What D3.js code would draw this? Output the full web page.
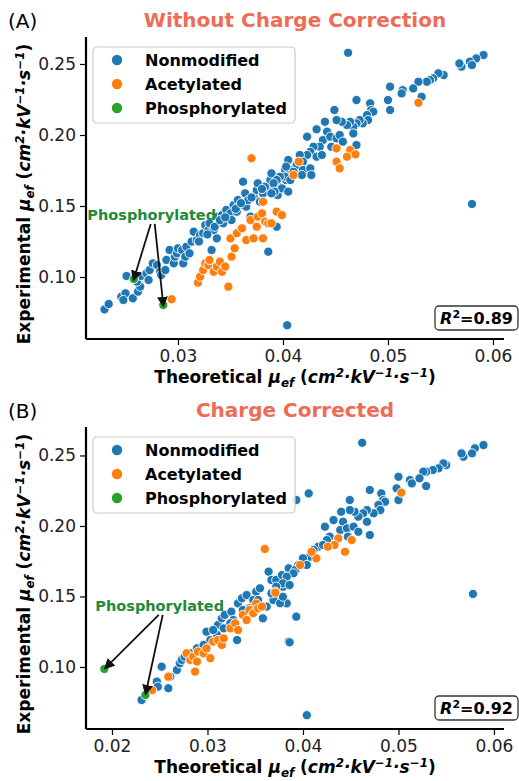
<!DOCTYPE html>
<html>
<head>
<meta charset="utf-8">
<script src="https://cdn.jsdelivr.net/npm/d3@7"></script>
<style>
  body { margin: 0; background: #fff; }
  text { font-family: "DejaVu Sans", sans-serif; }
</style>
</head>
<body>
<script>
// ---- data (theoretical mobility, experimental mobility) ----
const topNonmodified = [
  [0.0230,0.0772],[0.0234,0.0810],[0.0246,0.0861],[0.0250,0.0885],[0.0248,0.0838],[0.0257,0.0850],
  [0.0262,0.0897],[0.0264,0.0932],[0.0261,0.0967],[0.0251,0.1007],[0.0265,0.1007],[0.0270,0.1026],
  [0.0272,0.0979],[0.0273,0.1049],[0.0276,0.1096],[0.0280,0.1084],[0.0283,0.1037],[0.0284,0.1014],
  [0.0288,0.1049],[0.0289,0.1120],[0.0292,0.1190],[0.0296,0.1096],[0.0297,0.1143],[0.0299,0.1167],
  [0.0300,0.1202],[0.0304,0.1190],[0.0305,0.1096],[0.0307,0.1143],[0.0308,0.1213],[0.0311,0.1167],
  [0.0313,0.1249],[0.0315,0.1319],[0.0318,0.1260],[0.0321,0.1296],[0.0324,0.1308],[0.0326,0.1366],
  [0.0329,0.1331],[0.0330,0.1378],[0.0332,0.1190],[0.0334,0.1331],[0.0335,0.1354],[0.0337,0.1272],
  [0.0338,0.1425],[0.0342,0.1436],[0.0343,0.1378],[0.0346,0.1472],[0.0350,0.1448],[0.0351,0.1401],
  [0.0353,0.1507],[0.0356,0.1460],[0.0357,0.1542],[0.0361,0.1507],[0.0362,0.1671],[0.0364,0.1589],
  [0.0365,0.1495],[0.0367,0.1542],[0.0369,0.1425],[0.0372,0.1565],[0.0375,0.1612],[0.0376,0.1660],
  [0.0378,0.1530],[0.0381,0.1589],[0.0383,0.1636],[0.0386,0.1178],[0.0388,0.1683],[0.0389,0.1730],
  [0.0391,0.1612],[0.0394,0.1660],[0.0394,0.1354],[0.0395,0.1577],[0.0397,0.1706],[0.0399,0.1624],
  [0.0402,0.1753],[0.0403,0.1683],[0.0405,0.1824],[0.0405,0.1601],
  [0.0320,0.1250],[0.0328,0.1300],[0.0340,0.1400],[0.0345,0.1420],[0.0355,0.1480],[0.0360,0.1520],
  [0.0370,0.1560],[0.0380,0.1620],
  [0.0591,0.2563],[0.0584,0.2539],[0.0578,0.2516],[0.0580,0.2492],[0.0570,0.2481],[0.0568,0.2504],
  [0.0553,0.2422],[0.0548,0.2434],[0.0543,0.2399],[0.0540,0.2387],[0.0537,0.2375],[0.0529,0.2375],
  [0.0524,0.2328],[0.0532,0.2269],[0.0514,0.2316],[0.0513,0.2293],[0.0502,0.2340],[0.0500,0.2246],
  [0.0502,0.2176],[0.0483,0.2223],[0.0484,0.2176],[0.0486,0.2164],[0.0480,0.2140],[0.0481,0.2105],
  [0.0470,0.2246],[0.0476,0.2082],[0.0473,0.2105],[0.0470,0.2082],[0.0467,0.2058],[0.0464,0.2093],
  [0.0467,0.2011],[0.0461,0.2070],[0.0456,0.2093],[0.0451,0.2105],[0.0449,0.2176],[0.0440,0.2093],
  [0.0432,0.2040],[0.0423,0.1988],[0.0442,0.2023],[0.0438,0.1964],[0.0445,0.1988],[0.0451,0.1976],
  [0.0454,0.2000],[0.0457,0.1953],[0.0446,0.1917],[0.0470,0.1929],[0.0435,0.1917],[0.0429,0.1917],
  [0.0426,0.1882],[0.0432,0.1847],[0.0437,0.1859],[0.0423,0.1859],[0.0416,0.1859],[0.0419,0.1812],
  [0.0413,0.1788],[0.0407,0.1753],[0.0403,0.1777],[0.0410,0.1741],[0.0419,0.1753],[0.0426,0.1765],
  [0.0427,0.1718],[0.0418,0.1718],[0.0402,0.1706],[0.0397,0.1706],[0.0394,0.1683],[0.0391,0.1660],
  [0.0392,0.1601],[0.0389,0.1589],[0.0407,0.1683],
  [0.0580,0.1514],[0.0462,0.2579],[0.0404,0.0660]
];
const topAcetylated = [
  [0.0294,0.0843],[0.0319,0.0960],[0.0321,0.1002],[0.0324,0.1049],[0.0326,0.1096],[0.0329,0.1084],
  [0.0330,0.1120],[0.0334,0.1037],[0.0337,0.1073],[0.0340,0.1108],[0.0342,0.1037],[0.0345,0.1073],
  [0.0348,0.0932],[0.0350,0.1272],[0.0351,0.1143],[0.0354,0.1202],[0.0356,0.1308],[0.0361,0.1343],
  [0.0365,0.1260],[0.0369,0.1401],[0.0372,0.1272],[0.0375,0.1354],[0.0376,0.1425],[0.0380,0.1448],
  [0.0381,0.1272],[0.0381,0.1530],[0.0383,0.1390],[0.0386,0.1378],[0.0389,0.1378],[0.0394,0.1460],
  [0.0399,0.1436],[0.0370,0.1836],
  [0.0529,0.2227],[0.0451,0.1906],[0.0464,0.1894],[0.0469,0.1864],[0.0461,0.1847],[0.0451,0.1812],
  [0.0454,0.1765],[0.0415,0.1812],[0.0410,0.1718]
];
const topPhosphorylated = [[0.0258,0.0986],[0.0286,0.0803]];

const bottomNonmodified = [
  [0.0231,0.0766],[0.0247,0.0896],[0.0248,0.0860],[0.0252,0.1002],[0.0259,0.0849],[0.0261,0.0931],
  [0.0268,0.0979],[0.0271,0.1026],[0.0273,0.1050],[0.0276,0.1073],[0.0299,0.1250],[0.0303,0.1191],
  [0.0310,0.1227],[0.0311,0.1298],[0.0315,0.1345],[0.0318,0.1369],[0.0325,0.1392],[0.0327,0.1333],
  [0.0331,0.1191],[0.0332,0.1451],[0.0336,0.1487],[0.0341,0.1510],[0.0344,0.1416],[0.0348,0.1475],
  [0.0351,0.1534],[0.0355,0.1558],[0.0358,0.1345],[0.0362,0.1428],[0.0364,0.1676],[0.0367,0.1617],
  [0.0372,0.1617],[0.0376,0.1499],[0.0378,0.1652],[0.0379,0.1569],[0.0383,0.1451],[0.0385,0.1180],
  [0.0385,0.1700],
  [0.0282,0.1097],[0.0289,0.1132],[0.0296,0.1156],[0.0306,0.1262],[0.0317,0.1274],[0.0324,0.1310],
  [0.0337,0.1404],[0.0353,0.1475],
  [0.0589,0.2574],[0.0580,0.2551],[0.0577,0.2515],[0.0568,0.2491],[0.0566,0.2515],[0.0550,0.2432],
  [0.0547,0.2444],[0.0542,0.2409],[0.0536,0.2397],[0.0529,0.2385],[0.0526,0.2385],[0.0522,0.2338],
  [0.0529,0.2283],[0.0512,0.2326],[0.0514,0.2302],[0.0500,0.2349],[0.0498,0.2267],[0.0500,0.2184],
  [0.0482,0.2231],[0.0484,0.2184],[0.0486,0.2172],[0.0479,0.2149],[0.0481,0.2113],[0.0470,0.2255],
  [0.0474,0.2090],[0.0467,0.2113],[0.0463,0.2090],[0.0458,0.2066],[0.0454,0.2101],[0.0467,0.2030],
  [0.0449,0.2113],[0.0449,0.2184],[0.0440,0.2101],[0.0432,0.2042],[0.0423,0.1995],[0.0442,0.2030],
  [0.0439,0.1971],[0.0446,0.1983],[0.0453,0.1995],[0.0458,0.1959],[0.0447,0.1924],[0.0470,0.1936],
  [0.0428,0.1924],[0.0425,0.1900],[0.0416,0.1853],[0.0421,0.1865],[0.0411,0.1830],[0.0407,0.1782],
  [0.0400,0.1771],[0.0404,0.1723],[0.0395,0.1723],[0.0392,0.1688],[0.0390,0.1664],[0.0383,0.1640],
  [0.0379,0.1593],[0.0386,0.1581],[0.0372,0.1569],[0.0369,0.1475],[0.0376,0.1452],[0.0379,0.1498],
  [0.0367,0.1522],[0.0393,0.1357],[0.0578,0.1518],[0.0406,0.2231],[0.0393,0.2184],
  [0.0462,0.2590],[0.0404,0.0658],[0.0386,0.1175]
];
const bottomAcetylated = [
  [0.0242,0.0835],[0.0259,0.0931],[0.0278,0.1097],[0.0282,0.1050],[0.0285,0.1073],[0.0289,0.1038],
  [0.0290,0.1109],[0.0296,0.1097],[0.0299,0.1132],[0.0303,0.1062],[0.0306,0.1180],[0.0311,0.1191],
  [0.0315,0.1156],[0.0317,0.1203],[0.0324,0.1274],[0.0329,0.1310],[0.0332,0.1262],[0.0337,0.1369],
  [0.0341,0.1333],[0.0344,0.1404],[0.0348,0.1381],[0.0351,0.1451],[0.0353,0.1416],[0.0357,0.1428],
  [0.0371,0.1534],[0.0287,0.0967],
  [0.0503,0.2236],[0.0451,0.1900],[0.0444,0.1817],[0.0437,0.1912],[0.0433,0.1865],[0.0426,0.1853],
  [0.0414,0.1771],[0.0409,0.1817],[0.0397,0.1723],[0.0371,0.1527],[0.0360,0.1837]
];
const bottomPhosphorylated = [[0.0192,0.0986],[0.0235,0.0801]];

const categories = ["Nonmodified", "Acetylated", "Phosphorylated"];
const colors = ["#1f77b4", "#ff7f0e", "#2ca02c"];
const xTicksTop = [0.03, 0.04, 0.05, 0.06];
const xTicksBottom = [0.02, 0.03, 0.04, 0.05, 0.06];
const yTicks = [0.10, 0.15, 0.20, 0.25];
const r2Top = "0.89";
const r2Bottom = "0.92";

const svg = d3.select("body").append("svg")
  .attr("width", 519)
  .attr("height", 781);

const fmt = d3.format(".2f");

function richText(sel, segs, size) {
  let shift = 0;
  segs.forEach((s) => {
    const target = s.sup ? -0.38 * size : s.sub ? 0.22 * size : 0;
    sel.append("tspan")
      .attr("dy", target - shift)
      .attr("font-size", s.sup || s.sub ? size * 0.7 : size)
      .attr("font-style", s.it ? "italic" : "normal")
      .attr("font-weight", "bold")
      .text(s.t);
    shift = target;
  });
}

const unitSegs = (name) => [
  { t: name + " " }, { t: "μ", it: 1 }, { t: "ef", it: 1, sub: 1 }, { t: " (" },
  { t: "cm", it: 1 }, { t: "2", it: 1, sup: 1 }, { t: "·kV", it: 1 }, { t: "−1", it: 1, sup: 1 },
  { t: "·s", it: 1 }, { t: "−1", it: 1, sup: 1 }, { t: ")" },
];

function drawPanel(p) {
  const x = d3.scaleLinear().domain(p.xDomain).range([p.left, p.right]);
  const y = d3.scaleLinear().domain(p.yDomain).range([p.bottom, p.top]);

  // panel letter + title
  svg.append("text").attr("x", 8).attr("y", p.top - 9).attr("font-size", 20).text(p.letter);
  svg.append("text")
    .attr("x", (p.left + p.right) / 2).attr("y", p.top - 10)
    .attr("text-anchor", "middle").attr("font-size", 20).attr("font-weight", "bold")
    .attr("fill", "#ee6b55").text(p.title);

  // axes
  const xMinor = d3.range(0.0175, 0.061, 0.0025).filter((v) => v >= p.xDomain[0] && v <= p.xDomain[1]);
  const yMinor = d3.range(0.0625, 0.27, 0.0125).filter((v) => v >= p.yDomain[0] && v <= p.yDomain[1]);

  const xg = svg.append("g").attr("transform", `translate(0,${p.bottom})`);
  xg.call(d3.axisBottom(x).tickValues(xMinor).tickSize(3).tickFormat(""));
  xg.call(d3.axisBottom(x).tickValues(p.xTicks).tickSize(6).tickPadding(5).tickFormat(fmt));
  xg.select(".domain").attr("stroke-width", 2.2);
  const yg = svg.append("g").attr("transform", `translate(${p.left},0)`);
  yg.call(d3.axisLeft(y).tickValues(yMinor).tickSize(3).tickFormat(""));
  yg.call(d3.axisLeft(y).tickValues(yTicks).tickSize(6).tickPadding(4).tickFormat(fmt));
  yg.select(".domain").attr("stroke-width", 2.2);
  svg.selectAll(".tick line").attr("stroke-width", 1.2);
  [xg, yg].forEach((g) => g.selectAll("text").attr("font-size", 17).attr("fill", "#222")
    .attr("font-family", "DejaVu Sans"));
  xg.selectAll(".domain").attr("d", `M${p.left},0H${p.right}`);
  yg.selectAll(".domain").attr("d", `M0,${p.top}V${p.bottom}`);

  // axis labels
  richText(svg.append("text").attr("x", (p.left + p.right) / 2).attr("y", p.bottom + 44)
    .attr("text-anchor", "middle"), unitSegs("Theoretical"), 17);
  richText(svg.append("text").attr("transform", `translate(30,${(p.top + p.bottom) / 2 + 6}) rotate(-90)`)
    .attr("text-anchor", "middle"), unitSegs("Experimental"), 17);

  // points
  [p.nonmod, p.acetyl, p.phos].forEach((data, i) => {
    svg.append("g").selectAll("circle").data(data).join("circle")
      .attr("cx", (d) => x(d[0])).attr("cy", (d) => y(d[1])).attr("r", 4.6)
      .attr("fill", colors[i]).attr("stroke", "#fff").attr("stroke-width", 0.9);
  });

  // annotation
  const ann = svg.append("g");
  const tx = x(p.annot[0]), ty = y(p.annot[1]);
  ann.append("text").attr("x", tx).attr("y", ty + 5).attr("text-anchor", "middle")
    .attr("font-size", 14.5).attr("font-weight", "bold").attr("fill", "#1e8a3a").text("Phosphorylated");
  p.phos.forEach((d, i) => {
    const x0 = tx + (i === 0 ? -1 : 3), y0 = ty + 9;
    const x1 = x(d[0]), y1 = y(d[1]);
    const len = Math.hypot(x1 - x0, y1 - y0), cut = p.arrowCut;
    ann.append("line").attr("x1", x0).attr("y1", y0)
      .attr("x2", x1 - (x1 - x0) / len * cut).attr("y2", y1 - (y1 - y0) / len * cut)
      .attr("stroke", "#111").attr("stroke-width", 1.8).attr("marker-end", "url(#head)");
  });

  // legend
  const lg = svg.append("g").attr("transform", `translate(93,${p.top + 10})`);
  lg.append("rect").attr("width", 202).attr("height", 76).attr("rx", 4)
    .attr("fill", "#fff").attr("fill-opacity", 0.85).attr("stroke", "#ccc").attr("stroke-width", 1.2);
  categories.forEach((c, i) => {
    lg.append("circle").attr("cx", 24).attr("cy", 13 + i * 24).attr("r", 5.2).attr("fill", colors[i]);
    lg.append("text").attr("x", 52).attr("y", 13 + i * 24 + 6).attr("font-size", 16)
      .attr("font-weight", "bold").text(c);
  });

  // R2 box
  const rb = svg.append("g").attr("transform", `translate(435,${p.bottom - 33})`);
  rb.append("rect").attr("width", 83).attr("height", 24).attr("rx", 4)
    .attr("fill", "#fff").attr("stroke", "#333").attr("stroke-width", 1.3);
  const rt = rb.append("text").attr("x", 41.5).attr("y", 18).attr("text-anchor", "middle")
    .attr("font-size", 16).attr("font-weight", "bold");
  rt.append("tspan").attr("font-style", "italic").text("R");
  rt.append("tspan").attr("dy", -6).attr("font-size", 11).text("2");
  rt.append("tspan").attr("dy", 6).text("=" + p.r2);
}

svg.append("defs").append("marker")
  .attr("id", "head").attr("viewBox", "0 0 10 10").attr("refX", 2).attr("refY", 5)
  .attr("markerWidth", 6).attr("markerHeight", 6).attr("orient", "auto")
  .append("path").attr("d", "M0,0L10,5L0,10z").attr("fill", "#111");

drawPanel({
  letter: "(A)", title: "Without Charge Correction",
  left: 86, right: 504, top: 37, bottom: 339,
  xDomain: [0.02124, 0.06105], yDomain: [0.05634, 0.2690], xTicks: xTicksTop,
  nonmod: topNonmodified, acetyl: topAcetylated, phos: topPhosphorylated,
  annot: [0.0275, 0.1437], arrowCut: 6, r2: r2Top,
});
drawPanel({
  letter: "(B)", title: "Charge Corrected",
  left: 86, right: 504, top: 427, bottom: 729,
  xDomain: [0.01728, 0.06105], yDomain: [0.0560, 0.2702], xTicks: xTicksBottom,
  nonmod: bottomNonmodified, acetyl: bottomAcetylated, phos: bottomPhosphorylated,
  annot: [0.0250, 0.1433], arrowCut: 8, r2: r2Bottom,
});
</script>
</body>
</html>
